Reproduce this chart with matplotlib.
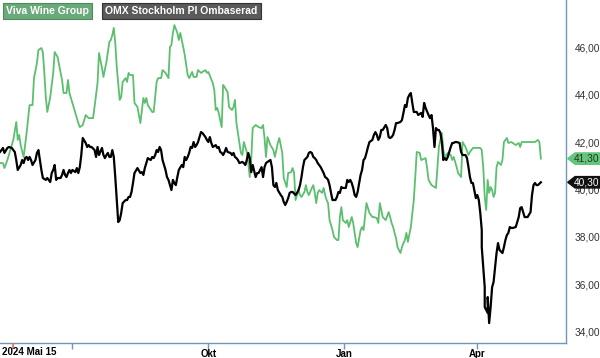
import matplotlib
matplotlib.use("Agg")
import matplotlib.pyplot as plt
import matplotlib.dates as mdates
from matplotlib.lines import TICKDOWN
from matplotlib.patches import Polygon
import pandas as pd

plt.rcParams['font.family'] = ['Liberation Sans', 'DejaVu Sans']

START = pd.Timestamp('2024-05-13')

# Viva Wine Group (day offset from START, price)
viva_days = [0, 2, 3, 5, 7, 9, 11, 12, 13, 14, 16, 18, 20, 22, 23, 25, 26, 28, 29, 30,
             31, 32, 34, 36, 37, 39, 40, 42, 43, 45, 46, 47, 49, 51, 53, 54, 56, 58, 60, 63,
             66, 67, 69, 70, 72, 74, 75, 76, 77, 78, 79, 81, 82, 83, 85, 86, 87, 88, 90, 91,
             93, 95, 96, 97, 98, 99, 100, 103, 104, 106, 107, 109, 110, 112, 114, 115, 116, 117, 118, 120,
             121, 122, 123, 124, 125, 127, 128, 130, 131, 133, 134, 136, 137, 139, 140, 141, 144, 145, 146, 147,
             148, 150, 151, 152, 154, 155, 157, 158, 159, 160, 162, 163, 164, 165, 167, 168, 169, 170, 171, 173,
             175, 177, 178, 179, 180, 181, 183, 185, 186, 188, 189, 191, 192, 194, 195, 197, 198, 199, 200, 202,
             203, 204, 206, 207, 208, 209, 211, 212, 213, 214, 215, 216, 218, 219, 220, 221, 222, 223, 225, 226,
             228, 229, 230, 231, 232, 234, 235, 236, 238, 239, 240, 241, 242, 244, 245, 246, 248, 249, 250, 252,
             253, 255, 256, 257, 258, 259, 261, 263, 264, 265, 266, 267, 268, 269, 271, 272, 273, 274, 275, 276,
             278, 280, 281, 282, 284, 285, 288, 289, 290, 292, 294, 295, 296, 297, 299, 300, 301, 303, 305, 306,
             307, 309, 310, 312, 313, 315, 317, 318, 320, 323, 325, 326, 327, 328, 329, 330, 331, 332, 333, 334,
             335, 336, 337, 339, 340, 341, 343, 344, 346, 347, 349, 351, 352, 353, 355, 357, 360, 362, 364, 365,
             366]
viva_vals = [41.11, 41.11, 40.90, 41.24, 41.66, 42.09, 42.85, 42.09, 42.30, 41.87, 41.37, 42.38, 43.56, 43.56, 44.70, 45.34, 45.89, 45.97, 45.80, 44.92,
             43.90, 43.27, 43.90, 44.92, 45.80, 45.59, 45.25, 44.62, 44.07, 44.07, 44.62, 44.07, 43.65, 43.23, 42.80, 42.63, 42.72, 43.14, 43.01, 43.01,
             44.49, 45.76, 45.13, 44.75, 45.38, 46.23, 46.31, 46.52, 46.82, 46.18, 45.17, 43.78, 43.90, 44.54, 44.70, 44.54, 44.92, 44.83, 44.83, 43.65,
             43.48, 42.80, 43.35, 43.86, 43.65, 43.86, 43.56, 43.27, 43.27, 44.54, 44.70, 44.70, 45.04, 44.92, 44.70, 46.01, 46.10, 46.61, 46.94, 46.61,
             46.31, 46.61, 46.31, 46.01, 45.68, 44.83, 44.70, 44.96, 44.75, 44.75, 45.04, 44.92, 44.96, 45.04, 44.92, 44.96, 44.49, 44.20, 43.35, 43.44,
             43.23, 42.63, 44.41, 44.32, 44.11, 43.48, 43.35, 43.48, 43.78, 42.80, 41.96, 41.54, 41.45, 42.00, 41.58, 41.11, 40.52, 41.24, 42.59, 42.72,
             42.63, 42.59, 42.72, 42.17, 41.37, 42.21, 41.87, 41.66, 41.37, 41.96, 42.17, 41.54, 40.48, 40.10, 40.69, 40.73, 40.90, 40.69, 39.55, 39.97,
             39.76, 39.68, 39.89, 40.18, 39.89, 39.76, 40.06, 40.18, 39.85, 39.42, 39.85, 39.97, 39.85, 40.06, 39.76, 39.55, 39.42, 38.70, 38.28, 37.99,
             37.86, 37.86, 38.83, 39.25, 38.70, 38.58, 38.70, 38.41, 38.83, 38.58, 38.16, 37.73, 37.56, 38.28, 38.41, 38.28, 39.42, 39.21, 39.00, 38.83,
             38.83, 38.79, 38.58, 39.42, 39.13, 38.83, 38.70, 39.04, 38.83, 38.58, 38.41, 38.16, 37.94, 37.56, 37.31, 37.56, 37.73, 37.86, 38.16, 37.78,
             38.41, 39.55, 40.52, 41.58, 41.54, 41.24, 41.32, 40.90, 40.40, 40.18, 40.10, 40.06, 40.94, 41.79, 42.38, 41.66, 41.37, 41.54, 41.45, 41.24,
             41.37, 40.94, 40.69, 40.52, 42.00, 41.79, 41.45, 41.58, 41.75, 41.75, 41.75, 41.66, 40.94, 39.68, 39.13, 40.40, 39.85, 40.10, 39.97, 39.68,
             39.85, 40.94, 41.16, 41.03, 41.24, 42.00, 42.17, 41.96, 42.00, 41.96, 41.87, 41.96, 41.79, 42.00, 42.00, 42.00, 42.00, 42.00, 42.09, 42.00,
             41.30]

# OMX Stockholm PI, rebased (day offset from START, value)
omx_days = [0, 1, 2, 3, 5, 6, 8, 9, 10, 11, 12, 14, 15, 16, 17, 18, 19, 20, 21, 22,
            24, 25, 26, 27, 28, 29, 31, 32, 34, 35, 36, 37, 38, 39, 41, 42, 43, 44, 45, 46,
            47, 48, 49, 51, 52, 53, 54, 55, 56, 58, 59, 60, 61, 62, 64, 65, 66, 67, 69, 70,
            71, 72, 73, 74, 75, 76, 77, 78, 79, 80, 81, 82, 83, 85, 86, 87, 88, 89, 90, 91,
            93, 95, 96, 97, 98, 99, 100, 102, 103, 104, 105, 106, 107, 108, 109, 110, 112, 113, 114, 115,
            116, 117, 118, 119, 120, 121, 123, 124, 125, 126, 127, 128, 129, 130, 131, 132, 133, 134, 135, 136,
            137, 139, 140, 141, 142, 143, 144, 146, 147, 148, 149, 150, 151, 152, 153, 154, 156, 157, 158, 159,
            160, 161, 162, 164, 165, 166, 167, 168, 169, 170, 171, 173, 174, 175, 176, 177, 178, 179, 180, 181,
            183, 184, 185, 186, 187, 188, 190, 191, 192, 193, 194, 195, 196, 197, 198, 200, 201, 202, 203, 204,
            205, 206, 208, 209, 210, 211, 212, 213, 214, 215, 217, 218, 219, 220, 221, 222, 223, 224, 225, 227,
            228, 229, 230, 231, 232, 234, 235, 236, 237, 238, 239, 240, 241, 242, 244, 245, 246, 247, 248, 249,
            250, 252, 253, 254, 255, 256, 257, 258, 259, 261, 262, 263, 264, 265, 266, 267, 268, 269, 271, 272,
            273, 274, 275, 276, 277, 278, 279, 280, 282, 283, 285, 286, 287, 288, 290, 291, 292, 293, 294, 295,
            296, 297, 298, 299, 300, 301, 302, 303, 305, 306, 307, 308, 309, 311, 312, 313, 315, 316, 317, 318,
            319, 320, 322, 323, 324, 325, 326, 326, 327, 328, 328, 330, 330, 331, 332, 333, 334, 335, 336, 337,
            338, 340, 341, 342, 343, 344, 345, 346, 347, 349, 350, 351, 352, 353, 354, 355, 356, 357, 359, 360,
            361, 362, 363, 364, 366]
omx_vals = [41.58, 41.66, 41.75, 41.54, 41.75, 41.79, 41.75, 41.66, 41.58, 41.24, 40.82, 41.03, 41.24, 41.11, 41.32, 41.37, 41.24, 41.37, 41.24, 41.03,
            41.24, 41.54, 41.66, 41.24, 40.82, 40.48, 40.40, 40.48, 40.31, 40.69, 40.82, 41.03, 40.40, 40.48, 40.48, 40.61, 40.82, 40.61, 40.52, 40.69,
            40.82, 40.69, 40.82, 40.73, 40.90, 40.69, 40.94, 41.45, 42.17, 41.96, 41.79, 41.87, 41.79, 41.79, 41.66, 41.37, 41.79, 41.45, 41.75, 41.45,
            41.32, 41.45, 41.54, 41.37, 41.37, 41.66, 41.37, 40.52, 39.55, 38.62, 38.70, 39.00, 39.42, 39.55, 39.55, 39.68, 39.68, 39.89, 40.27, 40.69,
            40.90, 40.69, 40.73, 40.61, 40.90, 41.11, 41.32, 41.24, 41.37, 41.32, 41.45, 41.66, 41.58, 41.79, 41.66, 41.24, 40.82, 40.52, 40.40, 40.18,
            39.97, 40.40, 40.27, 40.18, 40.52, 40.82, 41.03, 40.94, 41.37, 41.24, 41.37, 41.54, 41.79, 41.75, 42.00, 41.79, 41.87, 42.00, 42.21, 42.42,
            42.38, 42.21, 42.09, 42.00, 42.21, 41.96, 41.79, 41.87, 41.75, 41.79, 41.58, 41.54, 41.45, 41.58, 41.75, 41.58, 41.54, 41.45, 41.54, 41.37,
            41.32, 41.24, 41.11, 41.16, 41.11, 41.03, 41.24, 41.54, 41.32, 40.73, 41.03, 40.52, 40.69, 40.69, 40.82, 40.94, 40.52, 40.94, 41.11, 41.16,
            41.24, 40.94, 40.18, 40.10, 40.27, 39.97, 39.76, 39.68, 39.47, 39.34, 39.47, 39.63, 39.85, 39.89, 39.89, 39.76, 39.85, 39.97, 40.18, 40.52,
            40.94, 41.24, 41.37, 41.54, 41.58, 41.54, 41.37, 41.32, 41.24, 41.11, 40.94, 40.82, 40.69, 40.52, 40.48, 40.40, 40.18, 39.85, 39.55, 39.55,
            39.68, 39.89, 39.85, 40.10, 40.06, 40.06, 40.40, 40.31, 40.40, 40.27, 40.06, 39.76, 39.68, 39.89, 40.61, 40.82, 41.24, 41.32, 41.54, 41.79,
            42.00, 42.09, 42.30, 42.42, 42.30, 42.09, 42.21, 42.51, 42.51, 42.72, 42.59, 42.21, 42.17, 42.21, 42.30, 42.51, 42.80, 42.80, 42.85, 42.93,
            43.23, 43.56, 43.48, 43.86, 43.99, 44.07, 43.65, 43.27, 43.27, 43.14, 43.23, 43.06, 43.65, 43.44, 43.14, 43.01, 43.14, 42.59, 41.79, 42.59,
            42.51, 42.51, 42.38, 42.00, 41.24, 41.32, 41.24, 41.37, 41.79, 41.96, 41.96, 42.00, 42.00, 41.96, 41.58, 41.45, 41.45, 41.32, 40.94, 40.52,
            40.27, 40.27, 39.63, 39.76, 39.55, 39.00, 38.28, 37.56, 36.72, 35.87, 35.03, 34.78, 35.45, 34.35, 35.03, 35.87, 36.09, 36.72, 37.31, 37.73,
            37.44, 37.31, 37.56, 37.86, 38.07, 38.16, 38.41, 38.37, 38.37, 38.41, 38.62, 38.83, 39.21, 39.25, 39.04, 38.83, 38.83, 38.83, 39.04, 39.76,
            40.18, 40.27, 40.18, 40.18, 40.30]

y_ticks = [34, 36, 38, 40, 42, 44, 46]
x_tick_dates = ['2024-07-01', '2024-10-01', '2025-01-01', '2025-04-01']
x_tick_labels = ['', 'Okt', 'Jan', 'Apr']
start_mark = '2024-05-22'

GREEN = '#5cbf6f'
AXIS = '#7097b6'

viva_dates = START + pd.to_timedelta(viva_days, unit='D')
omx_dates = START + pd.to_timedelta(omx_days, unit='D')

fig = plt.figure(figsize=(6, 3.58), dpi=100)
ax = fig.add_axes([0, 15 / 358, 566 / 600, 343 / 358])

ax.plot(viva_dates, viva_vals, color=GREEN, lw=1.3, zorder=2)
ax.plot(omx_dates, omx_vals, color='black', lw=1.6, zorder=2.1)

ax.set_xlim(START, START + pd.Timedelta(days=383))
ax.set_ylim(33.51, 48.0)

for s in ['top', 'left']:
    ax.spines[s].set_visible(False)
for s in ['right', 'bottom']:
    ax.spines[s].set_color(AXIS)
    ax.spines[s].set_linewidth(1.0)

ax.yaxis.tick_right()
ax.set_yticks(y_ticks)
ax.set_yticklabels([f'{v:.2f}'.replace('.', ',') for v in y_ticks])
ax.tick_params(axis='y', length=0, pad=6.5, labelsize=7.3, labelcolor='#333333')

ax.set_xticks(mdates.date2num(pd.to_datetime(x_tick_dates)))
ax.set_xticklabels(x_tick_labels, fontweight='bold')
ax.tick_params(axis='x', length=4, width=1, color=AXIS, pad=0.5, labelsize=7)

# red start marker tick
ax.plot([pd.Timestamp(start_mark)], [0], transform=ax.get_xaxis_transform(), marker=TICKDOWN,
        markersize=4, mew=1.2, mec='#e06666', clip_on=False, zorder=4)
fig.text(2 / 600, 1 - 347 / 358, '2024 Mai 15', fontsize=7, fontweight='bold', va='top', ha='left')

# last-price badges on the right axis
tr = ax.get_yaxis_transform()
for val, fc, tc in [(viva_vals[-1], '#66c47c', '#1b3a20'), (omx_vals[-1], '#111111', 'white')]:
    h = 0.24
    poly = Polygon([(1.003, val), (1.016, val + h), (1.06, val + h), (1.06, val - h), (1.016, val - h)],
                   closed=True, transform=tr, fc=fc, ec=fc, clip_on=False, zorder=5)
    ax.add_patch(poly)
    ax.text(1.037, val, f'{val:.2f}'.replace('.', ','), transform=tr, ha='center', va='center',
            fontsize=7.3, color=tc, zorder=6, clip_on=False)

# legend boxes
fig.text(6 / 600, 1 - 11 / 358, 'Viva Wine Group', fontsize=7.5, fontweight='bold', color='white',
         va='center', ha='left',
         bbox=dict(boxstyle='square,pad=0.3', fc='#6aa97a', ec='#4e8a5d', lw=0.8))
fig.text(105 / 600, 1 - 11 / 358, 'OMX Stockholm PI Ombaserad', fontsize=7.5, fontweight='bold', color='white',
         va='center', ha='left',
         bbox=dict(boxstyle='square,pad=0.3', fc='#5a5a5a', ec='#333333', lw=0.8))

fig.savefig('out.png', dpi=100)
